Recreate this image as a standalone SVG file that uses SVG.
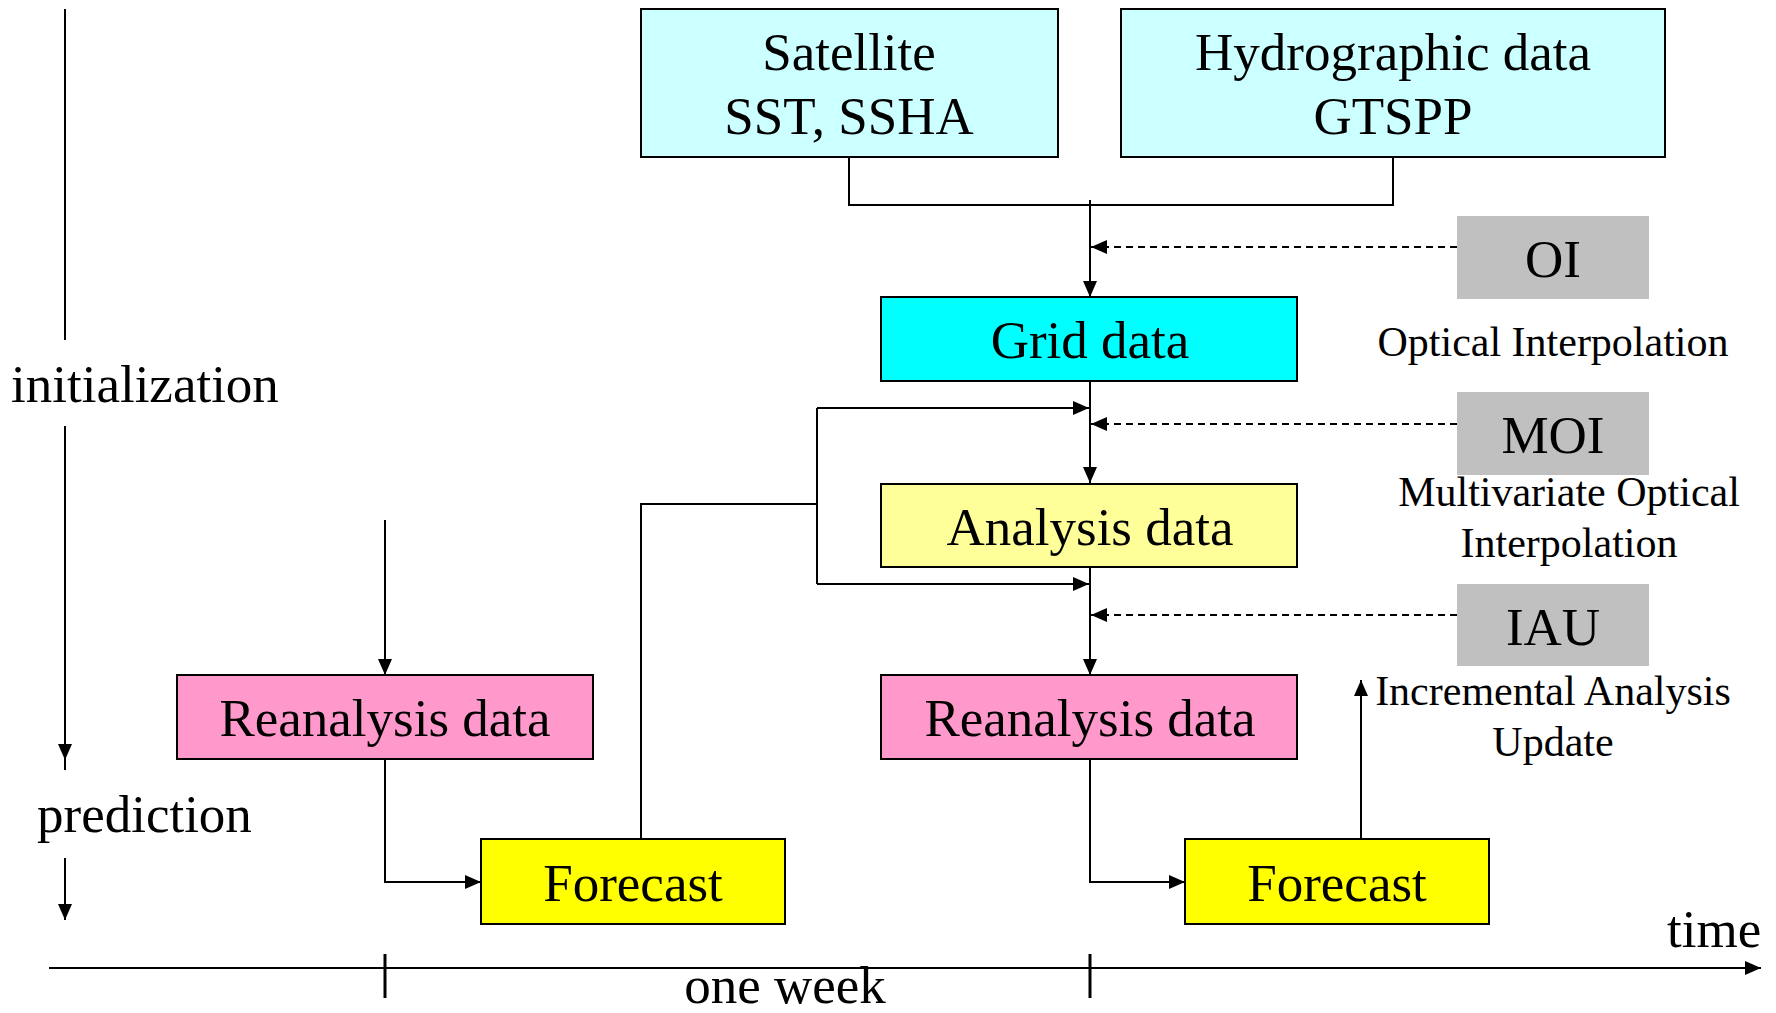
<svg xmlns="http://www.w3.org/2000/svg" width="1776" height="1013" viewBox="0 0 1776 1013">
  <style>
    .box { stroke: #000; stroke-width: 2; }
    .big { font-family: "Liberation Serif", "Times New Roman", serif; font-size: 53px; fill: #000; }
    .small { font-family: "Liberation Serif", "Times New Roman", serif; font-size: 42px; fill: #000; }
    .mid { text-anchor: middle; }
    .ln { fill: none; stroke: #000; stroke-width: 2; }
    .dash { fill: none; stroke: #000; stroke-width: 2; stroke-dasharray: 7 5; }
  </style>
  <defs>
    <marker id="arr" markerUnits="userSpaceOnUse" markerWidth="18" markerHeight="16" refX="16" refY="7" orient="auto">
      <path d="M0,0 L16,7 L0,14 z" fill="#000"/>
    </marker>
  </defs>
  <rect width="1776" height="1013" fill="#fff"/>

  <!-- left phase axis -->
  <g id="phase-axis">
    <line class="ln" x1="65" y1="9" x2="65" y2="340"/>
    <text class="big" x="11" y="402">initialization</text>
    <line class="ln" x1="65" y1="426" x2="65" y2="770"/>
    <path d="M58,744 L65,760 L72,744 z" fill="#000"/>
    <text class="big" x="37" y="832">prediction</text>
    <line class="ln" x1="65" y1="858" x2="65" y2="920" marker-end="url(#arr)"/>
  </g>

  <!-- time axis -->
  <g id="time-axis">
    <line class="ln" x1="49" y1="968" x2="1761" y2="968" marker-end="url(#arr)"/>
    <line x1="385" y1="954" x2="385" y2="998" stroke="#000" stroke-width="3"/>
    <line x1="1090" y1="954" x2="1090" y2="998" stroke="#000" stroke-width="3"/>
    <text class="big mid" x="785" y="1003">one week</text>
    <text class="big" x="1667" y="947">time</text>
  </g>

  <!-- connectors -->
  <g id="connectors">
    <path class="ln" d="M849,157 V205 H1393 V157"/>
    <line class="ln" x1="1090" y1="200" x2="1090" y2="297" marker-end="url(#arr)"/>
    <line class="ln" x1="1090" y1="381" x2="1090" y2="483" marker-end="url(#arr)"/>
    <line class="ln" x1="1090" y1="567" x2="1090" y2="675" marker-end="url(#arr)"/>
    <line class="dash" x1="1457" y1="247" x2="1091" y2="247" marker-end="url(#arr)"/>
    <line class="dash" x1="1457" y1="424" x2="1091" y2="424" marker-end="url(#arr)"/>
    <line class="dash" x1="1457" y1="615" x2="1091" y2="615" marker-end="url(#arr)"/>
    <!-- feedback from first forecast -->
    <path class="ln" d="M641,839 V504 H817"/>
    <line class="ln" x1="817" y1="408" x2="817" y2="584"/>
    <line class="ln" x1="817" y1="408" x2="1089" y2="408" marker-end="url(#arr)"/>
    <line class="ln" x1="817" y1="584" x2="1089" y2="584" marker-end="url(#arr)"/>
    <!-- reanalysis to forecast -->
    <line class="ln" x1="385" y1="520" x2="385" y2="675" marker-end="url(#arr)"/>
    <path class="ln" d="M385,759 V882 H481" marker-end="url(#arr)"/>
    <path class="ln" d="M1090,759 V882 H1185" marker-end="url(#arr)"/>
    <line class="ln" x1="1361" y1="839" x2="1361" y2="680" marker-end="url(#arr)"/>
  </g>

  <g id="satellite">
    <rect class="box" x="641" y="9" width="417" height="148" fill="#CCFFFF"/>
    <text class="big mid" x="849" y="70">Satellite</text>
    <text class="big mid" x="849" y="134">SST, SSHA</text>
  </g>
  <g id="hydrographic">
    <rect class="box" x="1121" y="9" width="544" height="148" fill="#CCFFFF"/>
    <text class="big mid" x="1393" y="70">Hydrographic data</text>
    <text class="big mid" x="1393" y="134">GTSPP</text>
  </g>

  <g id="oi">
    <rect x="1457" y="216" width="192" height="83" fill="#C0C0C0"/>
    <text class="big mid" x="1553" y="277">OI</text>
    <text class="small mid" x="1553" y="356">Optical Interpolation</text>
  </g>
  <g id="moi">
    <rect x="1457" y="392" width="192" height="83" fill="#C0C0C0"/>
    <text class="big mid" x="1553" y="453">MOI</text>
    <text class="small mid" x="1569" y="506">Multivariate Optical</text>
    <text class="small mid" x="1569" y="557">Interpolation</text>
  </g>
  <g id="iau">
    <rect x="1457" y="584" width="192" height="82" fill="#C0C0C0"/>
    <text class="big mid" x="1553" y="645">IAU</text>
    <text class="small mid" x="1553" y="705">Incremental Analysis</text>
    <text class="small mid" x="1553" y="756">Update</text>
  </g>

  <g id="grid-data">
    <rect class="box" x="881" y="297" width="416" height="84" fill="#00FFFF"/>
    <text class="big mid" x="1090" y="358">Grid data</text>
  </g>
  <g id="analysis-data">
    <rect class="box" x="881" y="484" width="416" height="83" fill="#FFFF99"/>
    <text class="big mid" x="1090" y="545">Analysis data</text>
  </g>
  <g id="reanalysis-right">
    <rect class="box" x="881" y="675" width="416" height="84" fill="#FF99CC"/>
    <text class="big mid" x="1090" y="736">Reanalysis data</text>
  </g>
  <g id="reanalysis-left">
    <rect class="box" x="177" y="675" width="416" height="84" fill="#FF99CC"/>
    <text class="big mid" x="385" y="736">Reanalysis data</text>
  </g>
  <g id="forecast-left">
    <rect class="box" x="481" y="839" width="304" height="85" fill="#FFFF00"/>
    <text class="big mid" x="633" y="901">Forecast</text>
  </g>
  <g id="forecast-right">
    <rect class="box" x="1185" y="839" width="304" height="85" fill="#FFFF00"/>
    <text class="big mid" x="1337" y="901">Forecast</text>
  </g>
</svg>
